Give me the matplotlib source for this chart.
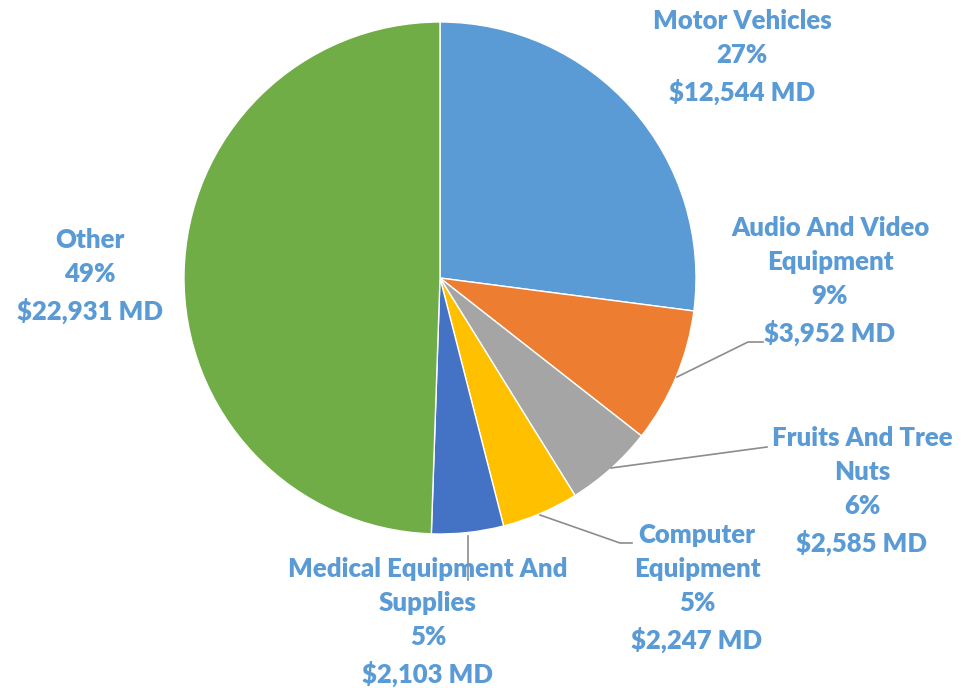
import matplotlib
matplotlib.use("Agg")
import matplotlib.pyplot as plt

# Данные
categories = ["Motor Vehicles", "Audio And Video\nEquipment", "Fruits And Tree\nNuts",
              "Computer\nEquipment", "Medical Equipment And\nSupplies", "Other"]
values = [12544, 3952, 2585, 2247, 2103, 22931]
colors = ["#5B9BD5", "#ED7D31", "#A5A5A5", "#FFC000", "#4472C4", "#70AD47"]

W, H = 967, 688
TEXT_COLOR = "#5B9BD5"
LINE_COLOR = "#8C8C8C"

# позиции подписей (пиксели, от верхнего левого угла)
label_pos = [(742, 57), (830, 281), (862, 491), (697, 588), (428, 622), (90, 276)]
# линии-выноски
leaders = {
    1: [(677, 377), (748, 342), (763, 342)],
    2: [(611, 468), (767, 447)],
    3: [(540, 515), (620, 543), (632, 543)],
    4: [(468, 536), (468, 580)],
}

plt.rcParams['font.family'] = ['Lato', 'DejaVu Sans']

fig = plt.figure(figsize=(W / 100, H / 100), dpi=100)
ax = fig.add_axes([0, 0, 1, 1])

cx, cy, r = 440, H - 278, 256
ax.pie(values, colors=colors, startangle=90, counterclock=False,
       center=(cx, cy), radius=r, frame=True,
       wedgeprops=dict(edgecolor='white', linewidth=1))
ax.set_xlim(0, W)
ax.set_ylim(0, H)
ax.set_aspect('equal')
ax.axis('off')

total = sum(values)
for i, (name, val) in enumerate(zip(categories, values)):
    pct = round(val / total * 100)
    txt = f"{name}\n{pct}%\n${val:,} MD"
    x, y = label_pos[i]
    ax.text(x, H - y, txt, ha='center', va='center', color=TEXT_COLOR,
            fontsize=18.5, fontweight='heavy', linespacing=1.5, zorder=5)

for i, pts in leaders.items():
    xs = [p[0] for p in pts]
    ys = [H - p[1] for p in pts]
    ax.plot(xs, ys, color=LINE_COLOR, linewidth=1.2, zorder=4)

fig.savefig("out.png", dpi=100)
